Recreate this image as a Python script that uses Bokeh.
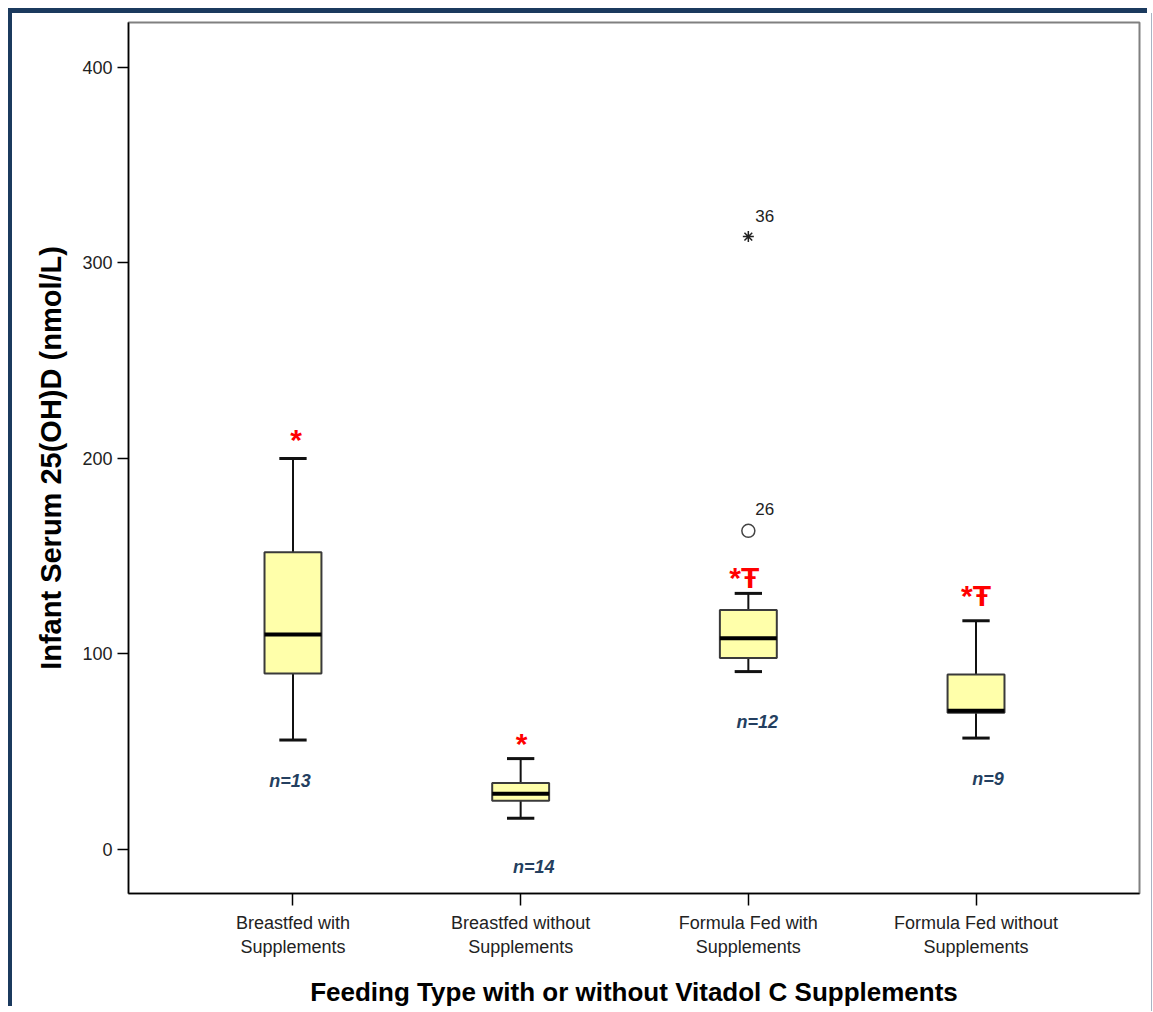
from bokeh.plotting import figure
from bokeh.models import FixedTicker, Range1d, ColumnDataSource
from bokeh.core.properties import value
from bokeh.embed import file_html
from bokeh.resources import INLINE

# ---- data ----
categories = ["Breastfed with\nSupplements", "Breastfed without\nSupplements",
              "Formula Fed with\nSupplements", "Formula Fed without\nSupplements"]
whisker_low = [56, 16, 91, 57]
q1 = [90, 25, 98, 70]
median = [110, 28.5, 108, 71]
q3 = [152, 34, 122.5, 89.5]
whisker_high = [200, 46.5, 131, 117]

n_labels = ["n=13", "n=14", "n=12", "n=9"]
n_label_y = [35, -9, 65, 36]
n_label_dx = [-3, 13, 9, 12]

sig_labels = ["*", "*", "*Ŧ", "*Ŧ"]
sig_y = [209.5, 54, 139, 130]
sig_dx = [3, 1, -4, 0]

outlier_group = [3]
outlier_value = [163]
outlier_case = ["26"]
extreme_group = [3]
extreme_value = [313.5]
extreme_case = ["36"]

y_ticks = [0, 100, 200, 300, 400]

FONT = "Liberation Sans"
BOX_W = 0.25
CAP_W = 0.12

xs = [i + 1 for i in range(len(categories))]

p = figure(width=1139, height=998, output_backend="svg", toolbar_location=None,
           x_range=Range1d(0.2776, 4.718), y_range=Range1d(-22.5, 423),
           min_border_left=116, min_border_right=12, min_border_top=9,
           min_border_bottom=118)
p.styles = {"margin-top": "13px", "margin-left": "12px",
            "box-shadow": "-4px -5px 0 0 #1b3a5e, 1px 0 0 0 #a8b4c4"}

p.xgrid.visible = False
p.ygrid.visible = False
p.outline_line_color = "#808080"
p.outline_line_width = 2
p.background_fill_color = "white"
p.border_fill_color = "white"

box_src = ColumnDataSource(dict(
    x=xs, low=whisker_low, q1=q1, med=median, q3=q3, high=whisker_high,
    bx0=[x - BOX_W / 2 for x in xs], bx1=[x + BOX_W / 2 for x in xs],
    cx0=[x - CAP_W / 2 for x in xs], cx1=[x + CAP_W / 2 for x in xs]))

# whiskers
p.segment(x0="x", y0="q3", x1="x", y1="high", source=box_src, line_color="#111", line_width=2)
p.segment(x0="x", y0="q1", x1="x", y1="low", source=box_src, line_color="#111", line_width=2)
# caps
p.segment(x0="cx0", y0="high", x1="cx1", y1="high", source=box_src, line_color="#111", line_width=3)
p.segment(x0="cx0", y0="low", x1="cx1", y1="low", source=box_src, line_color="#111", line_width=3)
# boxes
p.vbar(x="x", width=BOX_W, top="q3", bottom="q1", source=box_src,
       fill_color="#FFFFAA", line_color="#3a3a3a", line_width=2)
# medians
p.segment(x0="bx0", y0="med", x1="bx1", y1="med", source=box_src, line_color="black", line_width=4)

# outliers
p.scatter(outlier_group, outlier_value, marker="circle", size=13, fill_color=None,
          line_color="#444444", line_width=1.5)
p.scatter(extreme_group, extreme_value, marker="asterisk", size=11,
          line_color="#222222", line_width=1.5)
p.text(outlier_group, outlier_value, text=outlier_case, x_offset=7, y_offset=-22,
       text_font=value(FONT), text_font_size="17px", text_color="#222222",
       text_baseline="middle", text_align="left")
p.text(extreme_group, extreme_value, text=extreme_case, x_offset=7, y_offset=-21,
       text_font=value(FONT), text_font_size="17px", text_color="#222222",
       text_baseline="middle", text_align="left")

# significance markers
p.text(xs, sig_y, text=sig_labels, x_offset=sig_dx, text_font=value(FONT),
       text_font_size="30px", text_color="#FF0000", text_align="center",
       text_baseline="alphabetic", text_font_style="bold")

# n labels
p.text(xs, n_label_y, text=n_labels, x_offset=n_label_dx, text_font=value(FONT),
       text_font_size="18px", text_font_style="bold italic", text_color="#243f60",
       text_align="center", text_baseline="middle")

# axes
p.xaxis.ticker = FixedTicker(ticks=xs)
p.xaxis.major_label_overrides = {x: c for x, c in zip(xs, categories)}
p.yaxis.ticker = FixedTicker(ticks=y_ticks)
for ax in (p.xaxis, p.yaxis):
    ax.minor_tick_line_color = None
    ax.major_tick_in = 0
    ax.axis_line_color = "black"
    ax.axis_line_width = 1.5
    ax.major_tick_line_color = "black"
    ax.major_tick_line_width = 1.5
    ax.major_label_text_font = FONT
    ax.major_label_text_color = "#222222"
    ax.axis_label_text_font = FONT
    ax.axis_label_text_font_style = "bold"
    ax.axis_label_text_color = "black"

p.yaxis.major_tick_out = 11
p.yaxis.major_label_standoff = 5
p.yaxis.major_label_text_font_size = "18px"
p.yaxis.axis_label = "Infant Serum 25(OH)D (nmol/L)"
p.yaxis.axis_label_text_font_size = "29px"
p.yaxis.axis_label_standoff = 12

p.xaxis.major_tick_out = 12
p.xaxis.major_label_standoff = 7
p.xaxis.major_label_text_font_size = "18px"
p.xaxis.axis_label = "Feeding Type with or without Vitadol C Supplements"
p.xaxis.axis_label_text_font_size = "26px"
p.xaxis.axis_label_standoff = 17

open("out.html", "w").write(file_html(p, INLINE))
